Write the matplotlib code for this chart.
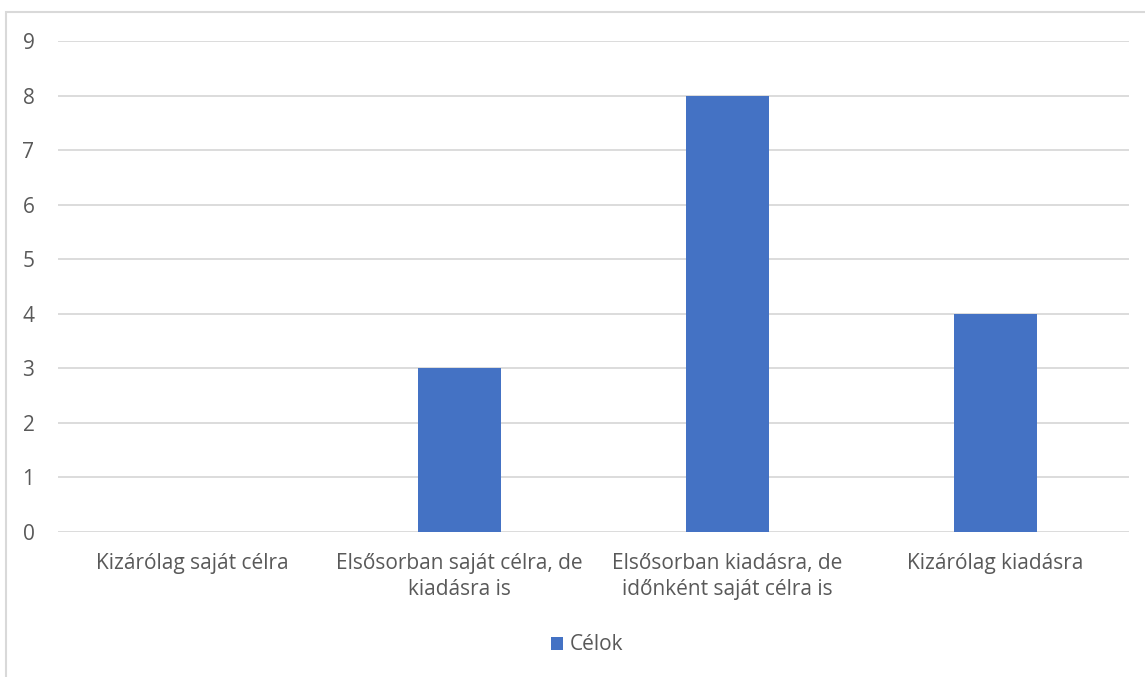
import matplotlib.pyplot as plt
from matplotlib.patches import Rectangle

categories = ["Kizárólag saját célra",
              "Elsősorban saját célra, de\nkiadásra is",
              "Elsősorban kiadásra, de\nidőnként saját célra is",
              "Kizárólag kiadásra"]
values = [0, 3, 8, 4]
series_name = "Célok"

plt.rcParams['font.family'] = ['Open Sans', 'DejaVu Sans']
text_color = '#595959'
grid_color = '#d9d9d9'

fig = plt.figure(figsize=(11.45, 6.77), dpi=100)
ax = fig.add_axes([58 / 1145, 1 - 532 / 677, (1129 - 58) / 1145, (532 - 41) / 677])

x = range(len(categories))
ax.bar(x, values, width=0.31, color='#4472C4', label=series_name, zorder=3)

ax.set_xlim(-0.5, len(categories) - 0.5)
ax.set_ylim(0, 9)
ax.set_yticks(range(0, 10))
ax.set_xticks(list(x))
ax.set_xticklabels(categories, fontsize=15, color=text_color, linespacing=1.3)
ax.tick_params(axis='y', labelsize=15, labelcolor=text_color, length=0, pad=17)
ax.tick_params(axis='x', length=0, pad=15)
ax.grid(axis='y', color=grid_color, linewidth=1.3, zorder=0)
for s in ax.spines.values():
    s.set_visible(False)

# chart border
fig.patches.append(Rectangle((6 / 1145, -0.01), 1.1, 1 - 12 / 677 + 0.01,
                             transform=fig.transFigure, fill=False,
                             edgecolor=grid_color, linewidth=1.5))

fig.legend(loc='center', bbox_to_anchor=(587 / 1145, 1 - 645 / 677),
           frameon=False, fontsize=15, labelcolor=text_color,
           handlelength=0.6, handleheight=0.6, handletextpad=0.3)

fig.savefig('out.png', dpi=100)
